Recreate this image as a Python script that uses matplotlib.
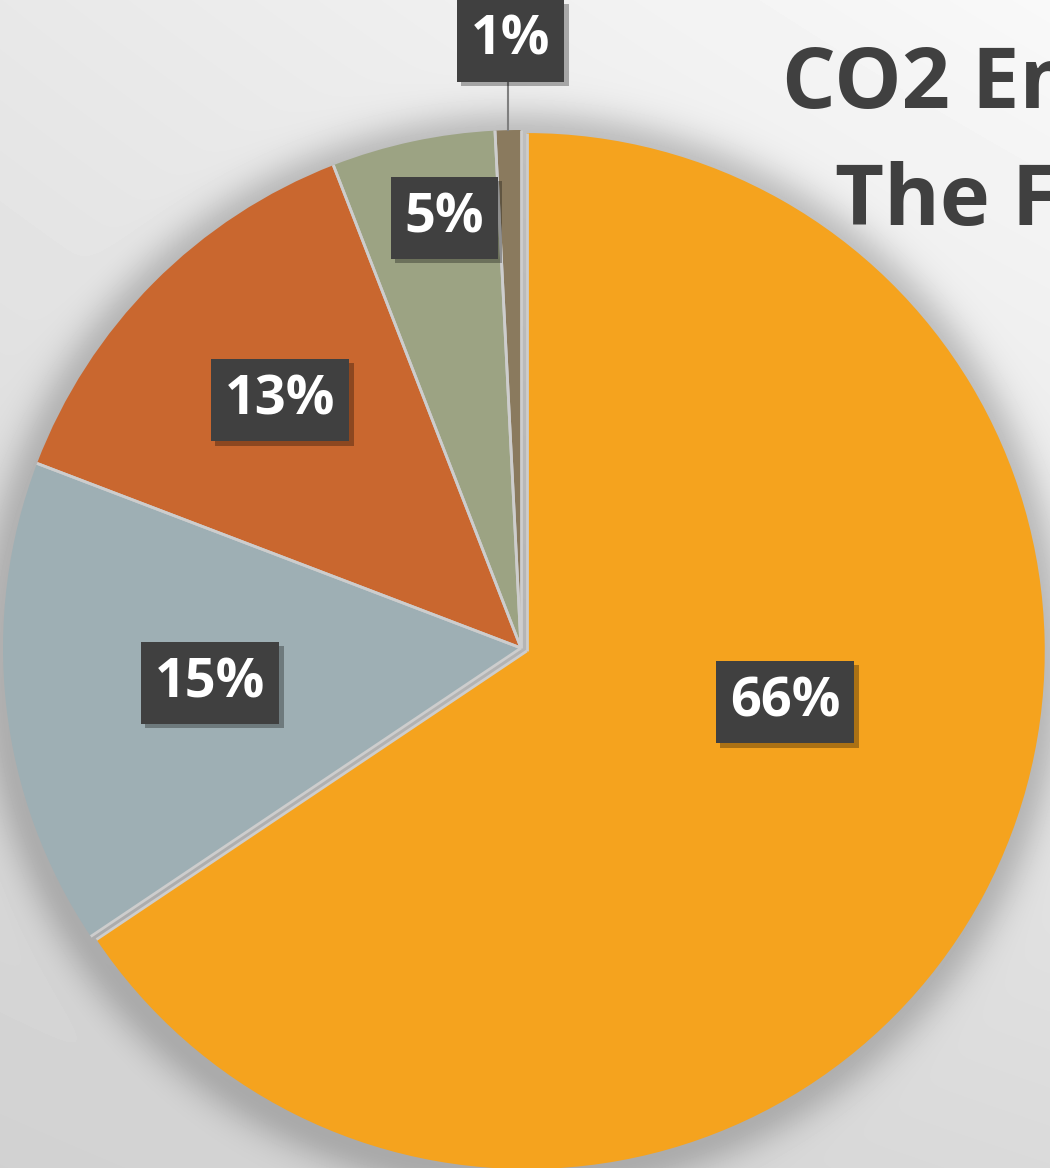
import numpy as np
import matplotlib.pyplot as plt
from matplotlib import patheffects

# slice shares (%); the orange one starts at 12 o'clock
shares = [65.6, 15.2, 13.3, 5.1, 0.8]
colors = ['#F5A31E', '#9EAFB4', '#C9672F', '#9CA383', '#8A7A5E']
pct_labels = [f'{round(v)}%' for v in shares]

title_lines = ['CO2 Emissions of', 'The Food Industry']

W, H = 1050, 1168
R = 518
cx, cy = 521, H - 648

# label box centres relative to pie centre, in radius units
label_pos = [(0.51, -0.105), (-0.60, -0.068), (-0.465, 0.478), (-0.148, 0.83), (-0.02, 1.172)]

fig = plt.figure(figsize=(W / 100, H / 100), dpi=100)
ax = fig.add_axes([0, 0, 1, 1])

# soft grey background with a glow-like shadow around the pie
yy, xx = np.mgrid[0:H, 0:W]
u = xx / W
w = yy / H
bg = 0.91 * (1 - u) * (1 - w) + 0.975 * u * (1 - w) + 0.82 * (1 - u) * w + 0.855 * u * w
d = np.sqrt((xx - cx) ** 2 + (yy - (H - cy) - 6) ** 2) - R
shade = 0.2 * np.exp(-(np.clip(d, 0, None) / 30) ** 2)
img = bg * (1 - shade)
ax.imshow(img, cmap='gray', vmin=0, vmax=1, extent=(0, W, 0, H), origin='upper',
          interpolation='bilinear', zorder=0)

wedges, _ = ax.pie(shares, colors=colors, startangle=90, counterclock=False,
                   center=(cx, cy), radius=R, explode=[6.5, 0, 0, 0, 0],
                   wedgeprops=dict(edgecolor='none', linewidth=0))
ax.set_xlim(0, W)
ax.set_ylim(0, H)
ax.set_aspect('equal')
ax.axis('off')

# light separators between slices only (no outer outline)
for wd in wedges:
    wx, wy = wd.center
    for th in (wd.theta1, wd.theta2):
        t = np.deg2rad(th)
        ax.plot([wx, wx + wd.r * np.cos(t)], [wy, wy + wd.r * np.sin(t)],
                color='#cdcdcd', lw=2, solid_capstyle='butt', zorder=2)

# leader line for the tiny slice
small = wedges[4]
mid = np.deg2rad((small.theta1 + small.theta2) / 2)
lx = cx + R * np.cos(mid)
ax.plot([lx, lx], [cy + R * np.sin(mid), cy + label_pos[4][1] * R], color='#7f7f7f', lw=1.5, zorder=3)

for lab, (dx, dy) in zip(pct_labels, label_pos):
    t = ax.text(cx + dx * R, cy + dy * R, lab, ha='center', va='center', fontsize=39,
                fontweight='bold', family='Open Sans', color='white', zorder=5,
                bbox=dict(boxstyle='square,pad=0.26', fc='#404040', ec='none'))
    t.get_bbox_patch().set_path_effects([
        patheffects.SimplePatchShadow(offset=(3, -3), shadow_rgbFace='black', alpha=0.3),
        patheffects.Normal()])

fig.text(782 / W, 1 - 108 / H, title_lines[0], ha='left', va='baseline', fontsize=61,
         fontweight='bold', color='#404040', family='Open Sans')
fig.text(835 / W, 1 - 225 / H, title_lines[1], ha='left', va='baseline', fontsize=61,
         fontweight='bold', color='#404040', family='Open Sans')

fig.savefig('out.png', dpi=100)
